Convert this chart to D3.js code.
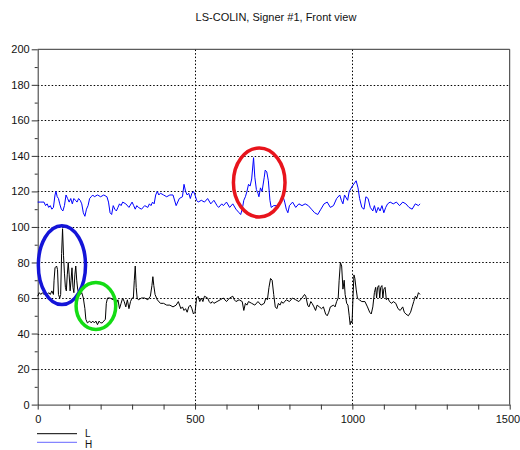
<!DOCTYPE html>
<html>
<head>
<meta charset="utf-8">
<script src="https://cdn.jsdelivr.net/npm/d3@7"></script>
<style>
  body { margin: 0; background: #fff; }
  text { font-family: "Liberation Sans", Arial, sans-serif; font-size: 11px; fill: #111; }
</style>
</head>
<body>
<script>
const width = 520;
const height = 450;
const margin = { top: 49.3, right: 10.3, bottom: 45.4, left: 37.7 };

const title = "LS-COLIN, Signer #1, Front view";
const xTickLabels = [0, 500, 1000, 1500];
const yTickLabels = [0, 20, 40, 60, 80, 100, 120, 140, 160, 180, 200];
const seriesNames = ["L", "H"];

// L (black) : frame index / value
const lX = [0, 5, 10, 15, 20, 25, 30, 35, 40, 45, 50, 52, 55, 60, 63, 66, 70, 73, 76, 79, 82, 85, 88, 91, 94, 97, 100, 103, 106, 109, 112, 115, 118, 121, 124, 127, 130, 135, 140, 145, 150, 153, 158, 165, 170, 175, 180, 185, 190, 195, 200, 205, 210, 215, 218, 222, 230, 240, 245, 250, 255, 260, 265, 270, 275, 280, 285, 290, 295, 300, 304, 307, 310, 313, 316, 320, 330, 340, 350, 358, 363, 366, 369, 373, 380, 390, 400, 410, 420, 430, 440, 447, 455, 460, 465, 470, 475, 480, 485, 490, 495, 500, 505, 510, 515, 520, 525, 530, 540, 545, 550, 555, 560, 570, 580, 590, 600, 610, 620, 625, 630, 640, 650, 655, 660, 665, 670, 680, 690, 700, 710, 720, 725, 730, 735, 740, 745, 750, 755, 760, 765, 770, 775, 780, 790, 800, 810, 820, 830, 840, 848, 852, 858, 862, 868, 872, 878, 883, 888, 895, 902, 908, 915, 920, 925, 930, 940, 945, 950, 955, 958, 962, 966, 970, 974, 977, 982, 986, 990, 993, 996, 999, 1002, 1005, 1008, 1012, 1016, 1022, 1030, 1040, 1048, 1055, 1060, 1065, 1070, 1074, 1077, 1080, 1084, 1087, 1090, 1094, 1097, 1100, 1104, 1108, 1113, 1118, 1125, 1130, 1138, 1145, 1152, 1160, 1165, 1170, 1178, 1185, 1190, 1195, 1200, 1205, 1210, 1215];
const lY = [61, 63, 62, 63, 62, 63, 62, 63, 62, 64, 62, 70, 77, 78, 76, 62, 60, 62, 85, 99, 84, 74, 66, 64, 73, 80, 73, 64, 70, 77, 66, 63, 73, 78, 70, 65, 63, 62, 63, 60, 54, 48, 46, 47, 46, 47, 46, 47, 45, 47, 46, 46, 47, 48, 57, 60, 60, 59, 60, 57, 59, 54, 57, 60, 58, 55, 59, 54, 58, 60, 60, 70, 78, 66, 60, 59, 60, 60, 59, 61, 67, 72, 67, 62, 59, 57, 57, 56, 56, 55, 56, 58, 54, 55, 53, 54, 52, 55, 56, 54, 51, 52, 60, 61, 58, 60, 58, 61, 60, 58, 57, 58, 57, 58, 59, 60, 58, 60, 61, 59, 58, 59, 58, 53, 57, 56, 58, 57, 56, 58, 56, 57, 60, 59, 66, 71, 70, 62, 55, 54, 57, 56, 58, 57, 59, 58, 60, 59, 58, 60, 62, 61, 56, 55, 58, 57, 55, 53, 56, 55, 54, 55, 51, 50, 52, 55, 56, 55, 58, 60, 70, 80, 78, 65, 70, 62, 57, 56, 50, 45, 47, 46, 60, 73, 71, 65, 60, 59, 58, 58, 55, 52, 51, 55, 63, 66, 60, 66, 67, 60, 66, 67, 60, 65, 66, 59, 60, 58, 57, 58, 57, 54, 53, 55, 52, 51, 50, 52, 55, 58, 61, 60, 63, 62];

// H (blue) : frame index / value
const hX = [0, 10, 20, 25, 30, 35, 40, 45, 50, 55, 58, 62, 66, 70, 75, 80, 85, 90, 95, 100, 105, 110, 115, 120, 125, 130, 135, 140, 145, 150, 155, 160, 165, 170, 175, 180, 190, 200, 210, 220, 225, 230, 235, 240, 245, 250, 255, 260, 265, 270, 280, 290, 300, 305, 310, 315, 320, 330, 340, 350, 355, 360, 365, 370, 375, 380, 385, 390, 400, 410, 420, 430, 440, 450, 460, 465, 470, 475, 480, 485, 490, 495, 500, 505, 510, 520, 530, 540, 550, 560, 570, 575, 585, 590, 600, 610, 620, 630, 640, 645, 650, 655, 660, 665, 670, 675, 680, 686, 690, 695, 700, 703, 708, 713, 720, 723, 728, 733, 738, 742, 750, 760, 770, 775, 780, 785, 790, 795, 800, 810, 820, 830, 840, 850, 860, 870, 880, 890, 900, 910, 920, 930, 940, 950, 960, 965, 970, 975, 985, 990, 1000, 1012, 1018, 1023, 1030, 1037, 1043, 1050, 1057, 1065, 1070, 1076, 1082, 1088, 1094, 1100, 1106, 1112, 1120, 1130, 1140, 1150, 1160, 1170, 1180, 1190, 1200, 1210, 1215];
const hY = [114, 114, 114, 112, 113, 111, 112, 110, 111, 118, 120, 117, 116, 113, 110, 109, 112, 118, 116, 114, 116, 113, 116, 115, 114, 116, 115, 113, 108, 106, 110, 112, 116, 117, 118, 117, 118, 117, 118, 117, 114, 108, 107, 112, 110, 109, 111, 113, 112, 114, 113, 111, 114, 112, 110, 112, 111, 110, 112, 111, 113, 112, 114, 113, 118, 120, 118, 119, 118, 117, 118, 118, 112, 116, 117, 124, 120, 118, 119, 116, 119, 120, 118, 115, 114, 115, 114, 116, 113, 115, 112, 111, 113, 112, 114, 111, 113, 110, 108, 107, 110, 115, 117, 120, 124, 123, 127, 139, 128, 121, 119, 117, 122, 120, 128, 132, 131, 126, 115, 111, 112, 112, 113, 115, 117, 114, 110, 108, 112, 114, 111, 113, 112, 113, 112, 110, 108, 107, 110, 113, 114, 111, 112, 116, 118, 115, 113, 118, 115, 120, 123, 126, 122, 116, 111, 110, 117, 116, 111, 109, 112, 108, 111, 109, 112, 108, 111, 113, 114, 113, 114, 112, 114, 113, 111, 110, 113, 112, 113];

// highlighted regions: centre (frame, value) and radii in data units
const markX = [704, 77, 185];
const markY = [125, 78.5, 55.5];
const markRx = [82, 75, 63];
const markRy = [19.4, 22.2, 13.2];
const markColors = ["#e8141c", "#1414d8", "#14dc14"];

const svg = d3
  .select("body")
  .append("svg")
  .attr("width", width)
  .attr("height", height);

const x = d3.scaleLinear().domain([0, 1500]).range([margin.left, width - margin.right]);
const y = d3.scaleLinear().domain([0, 200]).range([height - margin.bottom, margin.top]);

svg
  .append("text")
  .attr("x", 276)
  .attr("y", 20.5)
  .attr("text-anchor", "middle")
  .text(title);

// dotted grid
const grid = svg.append("g").attr("stroke", "#000").attr("stroke-dasharray", "1.5,2").attr("stroke-width", 1);
yTickLabels.filter(v => v > 0 && v < 200).forEach(v => {
  grid.append("line")
    .attr("x1", x(0)).attr("x2", x(1500))
    .attr("y1", Math.round(y(v)) + 0.5).attr("y2", Math.round(y(v)) + 0.5);
});
xTickLabels.filter(v => v > 0 && v < 1500).forEach(v => {
  grid.append("line")
    .attr("x1", Math.round(x(v)) + 0.5).attr("x2", Math.round(x(v)) + 0.5)
    .attr("y1", y(0)).attr("y2", y(200));
});

// frame top / right
svg.append("path")
  .attr("d", `M${x(0)},${y(200)}H${x(1500)}V${y(0)}`)
  .attr("fill", "none")
  .attr("stroke", "#333");

// axes
const xAxis = svg
  .append("g")
  .attr("transform", `translate(0,${y(0)})`)
  .call(
    d3.axisBottom(x)
      .tickValues(d3.range(0, 1501, 100))
      .tickSize(5)
      .tickSizeOuter(0)
      .tickFormat(d => (xTickLabels.includes(d) ? d : ""))
  );
xAxis.select(".domain").attr("stroke", "#333");
xAxis.selectAll(".tick line").attr("stroke", "#333");
xAxis.selectAll(".tick text").attr("dy", null).attr("y", 18).style("font-size", "11px").attr("font-family", null);
// last label sits against the right edge, as in the original
xAxis.selectAll(".tick text").filter(d => d === 1500).attr("text-anchor", "end").attr("x", 10);

const yAxis = svg
  .append("g")
  .attr("transform", `translate(${x(0)},0)`)
  .call(
    d3.axisLeft(y)
      .tickValues(d3.range(0, 201, 10))
      .tickSize(6)
      .tickSizeOuter(0)
      .tickFormat(d => (yTickLabels.includes(d) ? d : ""))
  );
yAxis.select(".domain").attr("stroke", "#333");
yAxis.selectAll(".tick line")
  .attr("stroke", "#333")
  .attr("x2", d => (yTickLabels.includes(d) ? -6 : -3));
yAxis.selectAll(".tick text").attr("x", -8).style("font-size", "11px").attr("font-family", null);
svg.selectAll(".tick text").attr("fill", "#111");

// series
const line = d3.line().x(d => x(d[0])).y(d => y(d[1]));
const series = [
  { name: seriesNames[0], pts: d3.zip(lX, lY), color: "#000" },
  { name: seriesNames[1], pts: d3.zip(hX, hY), color: "#0000ff" }
];
series.forEach(s => {
  svg.append("path")
    .attr("d", line(s.pts))
    .attr("fill", "none")
    .attr("stroke", s.color)
    .attr("stroke-width", 1);
});

// ellipses
markX.forEach((cx, i) => {
  svg.append("ellipse")
    .attr("cx", x(cx))
    .attr("cy", y(markY[i]))
    .attr("rx", x(markRx[i]) - x(0))
    .attr("ry", y(0) - y(markRy[i]))
    .attr("fill", "none")
    .attr("stroke", markColors[i])
    .attr("stroke-width", 3.5);
});

// legend
const legend = svg.append("g");
series.forEach((s, i) => {
  const ly = 433.7 + i * 8.6;
  legend.append("line")
    .attr("x1", 37).attr("x2", 77)
    .attr("y1", ly).attr("y2", ly)
    .attr("stroke", s.color)
    .attr("stroke-opacity", i === 1 ? 0.6 : 1);
  legend.append("text")
    .attr("x", 85)
    .attr("y", i === 0 ? 437 : 448)
    .style("font-size", "10px")
    .text(s.name);
});
</script>
</body>
</html>
